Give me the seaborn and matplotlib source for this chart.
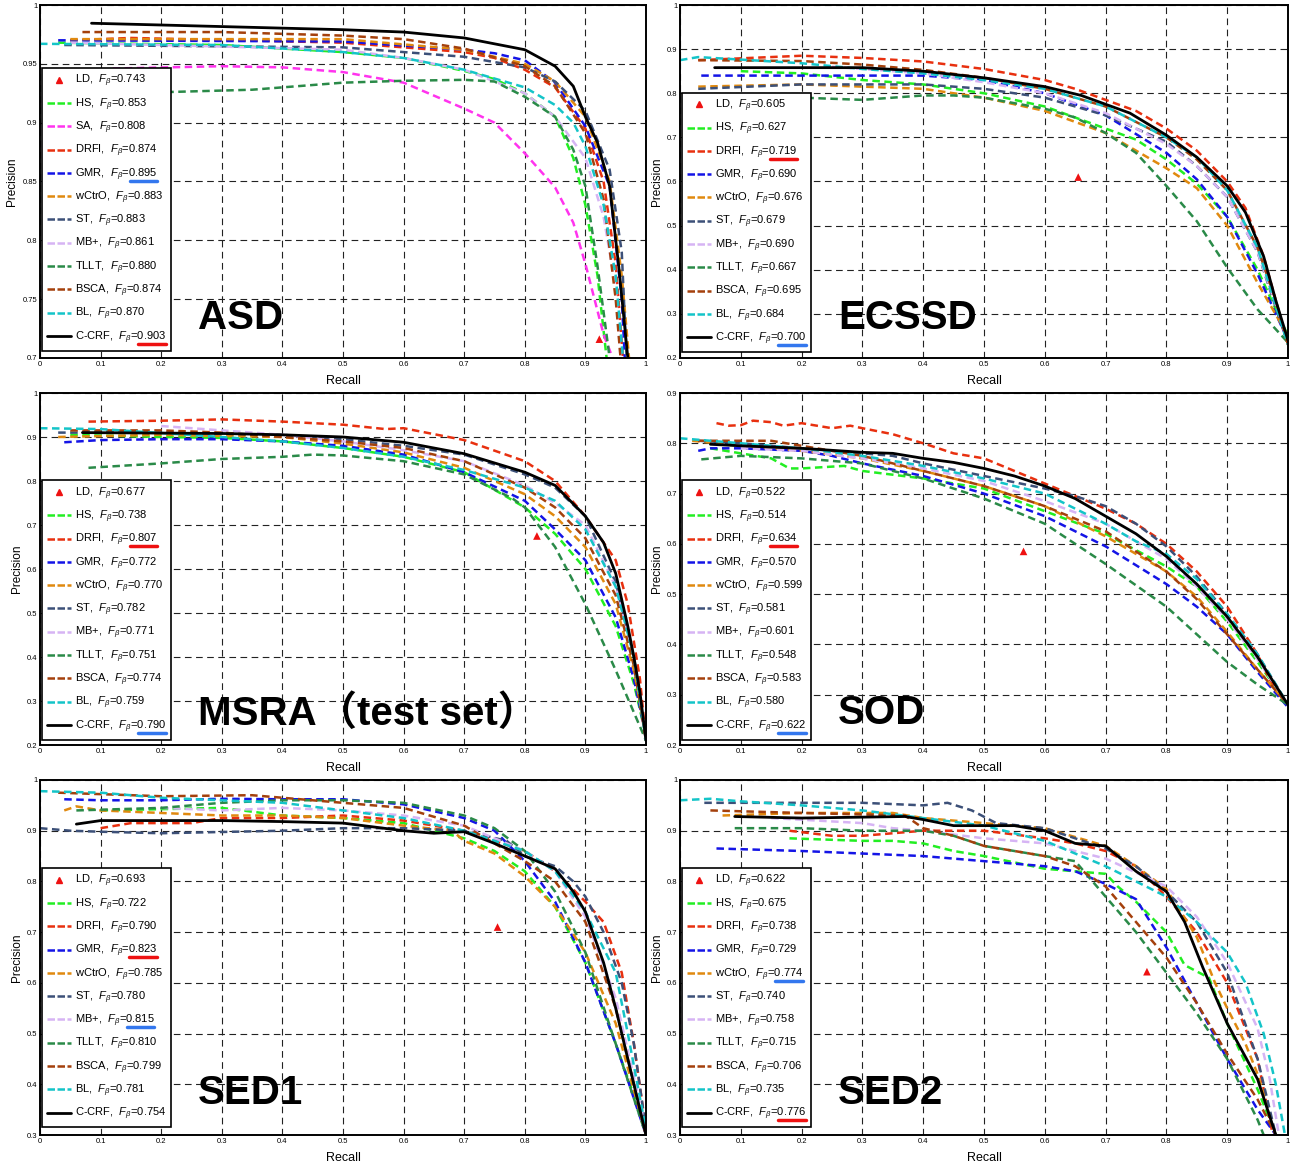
import numpy as np
import pandas as pd
import matplotlib
matplotlib.use("Agg")
import matplotlib.pyplot as plt
import seaborn as sns
from matplotlib.lines import Line2D

# legend order and colours
methods = ["HS", "SA", "DRFI", "GMR", "wCtrO", "ST", "MB+", "TLLT", "BSCA", "BL", "C-CRF"]
colors = {"HS": "#22ee22", "SA": "#ff33ee", "DRFI": "#e8300f", "GMR": "#1414e6",
          "wCtrO": "#e0890f", "ST": "#3c5078", "MB+": "#d6b4f4", "TLLT": "#2a8a48",
          "BSCA": "#a4400c", "BL": "#14c4c8", "C-CRF": "#000000"}

# ---- ASD ----
asd_curves = {
    "SA": [(0.12, .946), (0.3, .948), (0.4, .947), (0.5, .943), (0.6, .934), (0.7, .912), (0.75, .900),
           (0.8, .874), (0.85, .845), (0.88, .815), (0.9, .780), (0.93, .720), (0.945, .700)],
    "TLLT": [(0.05, .924), (0.21, .926), (0.35, .928), (0.5, .934), (0.6, .9356), (0.7, .9364), (0.75, .935),
             (0.8, .922), (0.85, .905), (0.88, .877), (0.9, .846), (0.92, .778), (0.94, .700)],
    "HS": [(0.03, .968), (0.3, .966), (0.5, .960), (0.6, .955), (0.7, .944), (0.75, .937), (0.8, .925),
           (0.85, .905), (0.88, .870), (0.9, .830), (0.92, .770), (0.935, .700)],
    "BL": [(0.0, .967), (0.3, .966), (0.5, .960), (0.6, .955), (0.7, .945), (0.8, .930), (0.85, .915),
           (0.88, .900), (0.9, .880), (0.93, .830), (0.95, .770), (0.962, .700)],
    "MB+": [(0.05, .968), (0.5, .962), (0.6, .955), (0.7, .945), (0.8, .925), (0.85, .905), (0.9, .870),
            (0.93, .820), (0.95, .760), (0.958, .700)],
    "ST": [(0.04, .966), (0.5, .964), (0.7, .956), (0.8, .947), (0.85, .935), (0.9, .910), (0.94, .860),
           (0.96, .790), (0.968, .700)],
    "DRFI": [(0.05, .970), (0.15, .972), (0.5, .968), (0.65, .962), (0.7, .960), (0.75, .955), (0.8, .945),
             (0.85, .930), (0.9, .895), (0.93, .850), (0.95, .780), (0.962, .700)],
    "wCtrO": [(0.05, .971), (0.5, .971), (0.7, .962), (0.8, .950), (0.85, .935), (0.9, .905), (0.94, .850),
              (0.96, .770), (0.972, .700)],
    "GMR": [(0.03, .970), (0.5, .969), (0.7, .962), (0.75, .959), (0.8, .953), (0.85, .934), (0.9, .897),
            (0.94, .846), (0.96, .750), (0.965, .700)],
    "BSCA": [(0.07, .977), (0.3, .977), (0.5, .974), (0.6, .971), (0.7, .963), (0.8, .948), (0.85, .931),
             (0.9, .891), (0.93, .835), (0.95, .750), (0.958, .700)],
    "C-CRF": [(0.085, .9845), (0.2, .983), (0.5, .979), (0.6, .977), (0.7, .972), (0.8, .962), (0.85, .948),
              (0.88, .931), (0.9, .905), (0.92, .883), (0.94, .846), (0.955, .778), (0.97, .700)],
}
asd_ld = (0.923, 0.716)
asd_f = {"LD": .743, "HS": .853, "SA": .808, "DRFI": .874, "GMR": .895, "wCtrO": .883, "ST": .883,
         "MB+": .861, "TLLT": .880, "BSCA": .874, "BL": .870, "C-CRF": .903}

# ---- ECSSD ----
ecssd_curves = {
    "TLLT": [(0.05, .795), (0.2, .790), (0.3, .785), (0.4, .795), (0.45, .795), (0.5, .790), (0.6, .765),
             (0.65, .745), (0.7, .710), (0.75, .665), (0.8, .590), (0.85, .510), (0.9, .405), (0.95, .310),
             (1.0, .235)],
    "wCtrO": [(0.03, .815), (0.2, .820), (0.3, .815), (0.4, .810), (0.5, .790), (0.6, .760), (0.7, .710),
              (0.8, .630), (0.85, .585), (0.9, .500), (0.95, .370), (1.0, .250)],
    "HS": [(0.1, .850), (0.2, .845), (0.3, .830), (0.4, .820), (0.5, .800), (0.6, .770), (0.7, .720),
           (0.75, .695), (0.8, .650), (0.85, .595), (0.9, .520), (0.95, .400), (1.0, .250)],
    "GMR": [(0.035, .840), (0.2, .840), (0.4, .840), (0.5, .830), (0.6, .800), (0.7, .750), (0.8, .665),
            (0.85, .605), (0.9, .520), (0.95, .390), (1.0, .240)],
    "ST": [(0.03, .810), (0.2, .820), (0.4, .820), (0.5, .810), (0.6, .790), (0.7, .750), (0.8, .690),
           (0.85, .635), (0.9, .565), (0.95, .440), (1.0, .230)],
    "MB+": [(0.25, .860), (0.3, .855), (0.4, .845), (0.5, .825), (0.6, .800), (0.7, .755), (0.8, .685),
            (0.85, .635), (0.9, .565), (0.95, .440), (1.0, .240)],
    "BL": [(0.0, .875), (0.03, .882), (0.2, .868), (0.3, .855), (0.4, .845), (0.5, .830), (0.6, .810),
           (0.7, .770), (0.8, .700), (0.85, .655), (0.9, .580), (0.95, .450), (1.0, .230)],
    "BSCA": [(0.03, .875), (0.2, .873), (0.3, .865), (0.4, .853), (0.5, .835), (0.6, .810), (0.7, .770),
             (0.8, .700), (0.85, .650), (0.9, .580), (0.95, .450), (0.98, .330), (1.0, .230)],
    "DRFI": [(0.03, .875), (0.2, .885), (0.3, .880), (0.4, .872), (0.5, .855), (0.6, .830), (0.65, .810),
             (0.7, .785), (0.75, .760), (0.8, .720), (0.85, .670), (0.9, .600), (0.93, .540), (0.96, .430),
             (0.98, .330), (1.0, .230)],
    "C-CRF": [(0.057, .858), (0.3, .858), (0.4, .850), (0.5, .835), (0.6, .815), (0.66, .795), (0.7, .775),
              (0.74, .755), (0.8, .705), (0.85, .655), (0.9, .590), (0.93, .530), (0.96, .430), (0.98, .330),
              (1.0, .240)],
}
ecssd_ld = (0.655, 0.61)
ecssd_f = {"LD": .605, "HS": .627, "DRFI": .719, "GMR": .690, "wCtrO": .676, "ST": .679, "MB+": .690,
           "TLLT": .667, "BSCA": .695, "BL": .684, "C-CRF": .700}

# ---- MSRA (test set) ----
msra_curves = {
    "TLLT": [(0.08, .830), (0.2, .840), (0.3, .850), (0.4, .855), (0.45, .860), (0.5, .858), (0.6, .845),
             (0.7, .815), (0.78, .760), (0.8, .740), (0.85, .650), (0.9, .520), (0.95, .370), (1.0, .210)],
    "HS": [(0.05, .905), (0.2, .900), (0.3, .898), (0.4, .890), (0.5, .875), (0.6, .855), (0.7, .820),
           (0.8, .740), (0.85, .680), (0.9, .600), (0.95, .470), (0.98, .340), (1.0, .220)],
    "GMR": [(0.04, .888), (0.1, .893), (0.2, .895), (0.3, .895), (0.4, .890), (0.5, .880), (0.6, .860),
            (0.7, .820), (0.8, .755), (0.85, .690), (0.9, .620), (0.95, .490), (0.98, .350), (1.0, .220)],
    "wCtrO": [(0.03, .900), (0.2, .905), (0.4, .900), (0.5, .885), (0.6, .865), (0.7, .830), (0.8, .770),
              (0.85, .720), (0.9, .650), (0.95, .520), (0.98, .370), (1.0, .220)],
    "BL": [(0.0, .920), (0.1, .918), (0.3, .900), (0.4, .890), (0.5, .875), (0.6, .855), (0.7, .825),
           (0.8, .785), (0.85, .755), (0.9, .690), (0.95, .560), (0.98, .400), (1.0, .210)],
    "BSCA": [(0.05, .915), (0.2, .915), (0.3, .910), (0.4, .900), (0.5, .890), (0.6, .875), (0.7, .845),
             (0.8, .785), (0.85, .740), (0.9, .670), (0.95, .540), (0.98, .380), (1.0, .210)],
    "MB+": [(0.2, .925), (0.3, .915), (0.4, .905), (0.5, .890), (0.6, .870), (0.7, .845), (0.8, .790),
            (0.85, .750), (0.9, .700), (0.95, .560), (0.98, .400), (1.0, .210)],
    "ST": [(0.03, .910), (0.2, .910), (0.4, .905), (0.5, .895), (0.6, .880), (0.7, .860), (0.8, .815),
           (0.85, .785), (0.9, .720), (0.95, .570), (0.98, .400), (1.0, .210)],
    "DRFI": [(0.08, .935), (0.2, .937), (0.3, .940), (0.4, .935), (0.5, .928), (0.57, .918), (0.6, .920),
             (0.7, .893), (0.8, .845), (0.85, .800), (0.9, .720), (0.95, .620), (0.97, .520), (0.99, .350),
             (1.0, .210)],
    "C-CRF": [(0.07, .910), (0.3, .908), (0.4, .905), (0.5, .900), (0.6, .888), (0.7, .862), (0.8, .820),
              (0.85, .790), (0.9, .720), (0.93, .660), (0.95, .590), (0.97, .470), (0.98, .400), (0.99, .320),
              (1.0, .210)],
}
msra_ld = (0.82, 0.675)
msra_f = {"LD": .677, "HS": .738, "DRFI": .807, "GMR": .772, "wCtrO": .770, "ST": .782, "MB+": .771,
          "TLLT": .751, "BSCA": .774, "BL": .759, "C-CRF": .790}

# ---- SOD ----
sod_curves = {
    "TLLT": [(0.035, .768), (0.1, .775), (0.2, .770), (0.3, .760), (0.4, .730), (0.5, .690), (0.6, .640),
             (0.7, .560), (0.8, .475), (0.9, .365), (0.95, .320), (1.0, .280)],
    "HS": [(0.05, .790), (0.1, .780), (0.15, .770), (0.18, .750), (0.2, .750), (0.27, .755), (0.3, .745),
           (0.4, .730), (0.5, .710), (0.6, .665), (0.7, .620), (0.8, .555), (0.85, .515), (0.9, .445),
           (0.95, .365), (1.0, .280)],
    "GMR": [(0.03, .785), (0.05, .790), (0.1, .790), (0.2, .785), (0.25, .775), (0.3, .760), (0.4, .735),
            (0.5, .700), (0.6, .655), (0.7, .595), (0.8, .520), (0.85, .475), (0.9, .420), (0.95, .345),
            (1.0, .275)],
    "wCtrO": [(0.02, .805), (0.1, .795), (0.2, .785), (0.3, .770), (0.4, .745), (0.5, .715), (0.6, .675),
              (0.7, .615), (0.8, .545), (0.85, .495), (0.9, .425), (0.95, .350), (1.0, .280)],
    "BSCA": [(0.03, .805), (0.15, .805), (0.2, .795), (0.3, .775), (0.4, .745), (0.5, .715), (0.6, .675),
             (0.7, .625), (0.8, .545), (0.85, .490), (0.9, .420), (0.95, .350), (1.0, .280)],
    "MB+": [(0.1, .790), (0.2, .785), (0.3, .770), (0.4, .750), (0.5, .725), (0.6, .685), (0.7, .640),
            (0.8, .570), (0.85, .515), (0.9, .450), (0.95, .370), (1.0, .280)],
    "BL": [(0.0, .810), (0.1, .800), (0.2, .790), (0.3, .775), (0.4, .755), (0.5, .730), (0.6, .700),
           (0.7, .640), (0.75, .605), (0.8, .580), (0.85, .530), (0.9, .460), (0.95, .380), (1.0, .280)],
    "ST": [(0.03, .805), (0.1, .800), (0.2, .790), (0.3, .780), (0.35, .775), (0.4, .760), (0.5, .735),
           (0.6, .710), (0.65, .695), (0.7, .675), (0.75, .640), (0.8, .595), (0.85, .535), (0.9, .460),
           (0.95, .380), (1.0, .280)],
    "DRFI": [(0.06, .840), (0.08, .835), (0.1, .836), (0.12, .845), (0.15, .842), (0.17, .835), (0.2, .840),
             (0.25, .830), (0.28, .835), (0.3, .830), (0.35, .818), (0.4, .800), (0.45, .780), (0.5, .770),
             (0.55, .745), (0.6, .720), (0.65, .695), (0.7, .670), (0.75, .640), (0.8, .600), (0.85, .545),
             (0.9, .475), (0.95, .380), (0.97, .330), (1.0, .280)],
    "C-CRF": [(0.05, .798), (0.1, .795), (0.2, .790), (0.3, .782), (0.35, .780), (0.4, .770), (0.45, .762),
              (0.5, .750), (0.55, .735), (0.6, .715), (0.65, .690), (0.7, .655), (0.75, .620), (0.8, .575),
              (0.85, .520), (0.9, .455), (0.95, .375), (1.0, .280)],
}
sod_ld = (0.565, 0.585)
sod_f = {"LD": .522, "HS": .514, "DRFI": .634, "GMR": .570, "wCtrO": .599, "ST": .581, "MB+": .601,
         "TLLT": .548, "BSCA": .583, "BL": .580, "C-CRF": .622}

# ---- SED1 ----
sed1_curves = {
    "ST": [(0.0, .905), (0.05, .900), (0.1, .898), (0.2, .895), (0.4, .900), (0.5, .905), (0.6, .905),
           (0.7, .900), (0.77, .880), (0.8, .850), (0.85, .830), (0.88, .800), (0.9, .770), (0.93, .700),
           (0.96, .600), (0.98, .480), (1.0, .310)],
    "HS": [(0.1, .940), (0.3, .945), (0.4, .930), (0.5, .925), (0.6, .915), (0.65, .900), (0.7, .885),
           (0.75, .860), (0.8, .820), (0.85, .750), (0.9, .640), (0.95, .480), (1.0, .310)],
    "wCtrO": [(0.04, .940), (0.06, .948), (0.1, .940), (0.2, .935), (0.3, .930), (0.4, .930), (0.5, .925),
              (0.6, .910), (0.68, .900), (0.7, .880), (0.75, .855), (0.8, .810), (0.85, .750), (0.9, .660),
              (0.95, .520), (1.0, .300)],
    "DRFI": [(0.1, .905), (0.15, .915), (0.25, .915), (0.3, .925), (0.4, .925), (0.5, .930), (0.6, .920),
             (0.7, .900), (0.8, .860), (0.85, .820), (0.9, .760), (0.93, .720), (0.96, .620), (0.98, .480),
             (1.0, .310)],
    "MB+": [(0.2, .945), (0.3, .940), (0.4, .945), (0.5, .940), (0.6, .930), (0.7, .910), (0.8, .860),
            (0.85, .820), (0.9, .730), (0.95, .570), (1.0, .310)],
    "BSCA": [(0.03, .975), (0.2, .968), (0.35, .970), (0.4, .965), (0.5, .955), (0.6, .945), (0.7, .910),
             (0.75, .875), (0.8, .840), (0.85, .800), (0.9, .720), (0.95, .550), (1.0, .300)],
    "TLLT": [(0.06, .940), (0.2, .945), (0.3, .955), (0.4, .960), (0.5, .960), (0.6, .955), (0.7, .930),
             (0.75, .905), (0.8, .860), (0.85, .780), (0.9, .660), (0.95, .480), (1.0, .300)],
    "GMR": [(0.04, .962), (0.1, .960), (0.2, .960), (0.3, .963), (0.4, .962), (0.5, .962), (0.6, .952),
            (0.7, .925), (0.75, .900), (0.8, .840), (0.85, .760), (0.9, .640), (0.95, .480), (1.0, .300)],
    "BL": [(0.0, .978), (0.1, .975), (0.2, .965), (0.3, .960), (0.4, .955), (0.5, .940), (0.6, .925),
           (0.7, .900), (0.8, .860), (0.85, .820), (0.9, .740), (0.95, .620), (0.97, .500), (1.0, .310)],
    "C-CRF": [(0.06, .913), (0.1, .920), (0.3, .920), (0.4, .918), (0.5, .915), (0.6, .900), (0.65, .895),
              (0.7, .898), (0.75, .875), (0.8, .850), (0.85, .825), (0.88, .780), (0.9, .740), (0.93, .640),
              (0.95, .550), (0.97, .450), (1.0, .300)],
}
sed1_ld = (0.755, 0.71)
sed1_f = {"LD": .693, "HS": .722, "DRFI": .790, "GMR": .823, "wCtrO": .785, "ST": .780, "MB+": .815,
          "TLLT": .810, "BSCA": .799, "BL": .781, "C-CRF": .754}

# ---- SED2 ----
sed2_curves = {
    "GMR": [(0.06, .865), (0.2, .860), (0.3, .855), (0.4, .850), (0.5, .840), (0.6, .830), (0.65, .820),
            (0.7, .795), (0.75, .765), (0.8, .670), (0.85, .560), (0.9, .450), (0.95, .350), (0.98, .300)],
    "HS": [(0.18, .885), (0.3, .880), (0.35, .880), (0.4, .875), (0.45, .860), (0.5, .850), (0.6, .825),
           (0.7, .815), (0.72, .790), (0.75, .760), (0.8, .700), (0.83, .635), (0.87, .610), (0.9, .520),
           (0.95, .390), (0.98, .300)],
    "TLLT": [(0.09, .905), (0.2, .905), (0.3, .900), (0.4, .900), (0.45, .890), (0.5, .870), (0.6, .850),
             (0.65, .840), (0.7, .770), (0.75, .700), (0.8, .620), (0.85, .540), (0.9, .450), (0.95, .330),
             (0.96, .300)],
    "DRFI": [(0.18, .900), (0.25, .890), (0.3, .890), (0.4, .900), (0.5, .900), (0.6, .885), (0.65, .875),
             (0.7, .860), (0.75, .830), (0.8, .770), (0.85, .700), (0.9, .600), (0.95, .450), (0.975, .300)],
    "MB+": [(0.15, .925), (0.3, .915), (0.35, .905), (0.4, .900), (0.5, .885), (0.6, .875), (0.7, .845),
            (0.8, .790), (0.85, .730), (0.9, .640), (0.95, .510), (0.97, .410), (0.985, .300)],
    "BSCA": [(0.05, .940), (0.2, .935), (0.37, .930), (0.4, .905), (0.45, .890), (0.5, .870), (0.6, .850),
             (0.65, .830), (0.7, .790), (0.75, .720), (0.8, .650), (0.85, .560), (0.9, .460), (0.95, .370),
             (0.98, .300)],
    "BL": [(0.0, .960), (0.05, .963), (0.1, .958), (0.2, .950), (0.3, .940), (0.4, .925), (0.5, .910),
           (0.6, .880), (0.7, .830), (0.75, .800), (0.8, .770), (0.85, .720), (0.9, .660), (0.93, .600),
           (0.96, .500), (0.98, .400), (0.995, .300)],
    "ST": [(0.04, .955), (0.2, .955), (0.3, .955), (0.4, .950), (0.44, .955), (0.48, .940), (0.52, .915),
           (0.6, .905), (0.7, .865), (0.75, .830), (0.8, .780), (0.85, .720), (0.9, .620), (0.95, .450),
           (0.98, .300)],
    "wCtrO": [(0.07, .930), (0.2, .935), (0.35, .935), (0.4, .925), (0.5, .915), (0.6, .905), (0.7, .870),
              (0.75, .830), (0.8, .785), (0.85, .690), (0.88, .600), (0.9, .550), (0.93, .480), (0.95, .420),
              (0.98, .300)],
    "C-CRF": [(0.09, .928), (0.2, .925), (0.37, .928), (0.4, .922), (0.45, .910), (0.55, .910), (0.6, .900),
              (0.65, .875), (0.7, .870), (0.73, .840), (0.75, .820), (0.8, .780), (0.83, .720), (0.86, .630),
              (0.9, .520), (0.95, .410), (0.98, .300)],
}
sed2_ld = (0.768, 0.622)
sed2_f = {"LD": .622, "HS": .675, "DRFI": .738, "GMR": .729, "wCtrO": .774, "ST": .740, "MB+": .758,
          "TLLT": .715, "BSCA": .706, "BL": .735, "C-CRF": .776}

# panel setup: title, curves, LD point, F values, y range, y step, red underline, blue underline
panels = [
    ("ASD", asd_curves, asd_ld, asd_f, (0.7, 1.0), 0.05, "C-CRF", "GMR"),
    ("ECSSD", ecssd_curves, ecssd_ld, ecssd_f, (0.2, 1.0), 0.1, "DRFI", "C-CRF"),
    ("MSRA（test set）", msra_curves, msra_ld, msra_f, (0.2, 1.0), 0.1, "DRFI", "C-CRF"),
    ("SOD", sod_curves, sod_ld, sod_f, (0.2, 0.9), 0.1, "DRFI", "C-CRF"),
    ("SED1", sed1_curves, sed1_ld, sed1_f, (0.3, 1.0), 0.1, "GMR", "MB+"),
    ("SED2", sed2_curves, sed2_ld, sed2_f, (0.3, 1.0), 0.1, "C-CRF", "wCtrO"),
]

sns.set_style("white")
plt.rcParams['font.family'] = ['Liberation Sans', 'Noto Sans CJK SC', 'DejaVu Sans']
plt.rcParams['mathtext.fontset'] = 'custom'
plt.rcParams['mathtext.it'] = 'Liberation Sans:italic'
plt.rcParams['mathtext.rm'] = 'Liberation Sans'
for k in ['text.color', 'axes.labelcolor', 'xtick.color', 'ytick.color']:
    plt.rcParams[k] = 'black'

W, H = 1302, 1169
fig = plt.figure(figsize=(W / 100, H / 100), dpi=100)

# axes boxes in pixels: left, top, right, bottom; plus y of the big dataset label
boxes = [(40, 5, 646, 358), (680, 5, 1288, 358),
         (40, 393, 646, 745), (680, 393, 1288, 745),
         (40, 780, 646, 1135), (680, 780, 1288, 1135)]
title_y = [0.113, 0.113, 0.09, 0.09, 0.118, 0.118]

underlines = []
for (title, curves, ld, fvals, ylim, ystep, red, blue), (l, t, r, b), ty in zip(panels, boxes, title_y):
    ax = fig.add_axes([l / W, 1 - b / H, (r - l) / W, (b - t) / H])

    for m in methods:
        if m not in curves:
            continue
        pts = pd.DataFrame(curves[m], columns=["recall", "precision"])
        if m == "C-CRF":
            sns.lineplot(data=pts, x="recall", y="precision", ax=ax, color=colors[m],
                         linewidth=2.0, sort=False, estimator=None, zorder=5)
        else:
            sns.lineplot(data=pts, x="recall", y="precision", ax=ax, color=colors[m],
                         linewidth=1.8, linestyle=(0, (3, 1.8)), sort=False, estimator=None)
    sns.scatterplot(x=[ld[0]], y=[ld[1]], ax=ax, marker='^', color='#ee1111', s=30,
                    edgecolor='none', zorder=6)

    ax.set_xlim(0, 1)
    ax.set_ylim(*ylim)
    xt = np.round(np.arange(0, 1.0001, 0.1), 2)
    yt = np.round(np.arange(ylim[0], ylim[1] + 1e-6, ystep), 2)
    ax.set_xticks(xt)
    ax.set_yticks(yt)
    ax.set_xticklabels([f"{v:g}" for v in xt])
    ax.set_yticklabels([f"{v:g}" for v in yt])
    ax.tick_params(direction='in', length=3, labelsize=5.5, pad=2)
    ax.grid(True, color='#222222', linestyle=(0, (6, 4)), linewidth=0.8)
    ax.set_axisbelow(True)
    for s in ax.spines.values():
        s.set_linewidth(1.4)
        s.set_color('black')
    ax.set_xlabel("Recall", fontsize=9, labelpad=5)
    ax.set_ylabel("Precision", fontsize=8.5, labelpad=3)

    handles = [Line2D([], [], color='#ee1111', marker='^', linestyle='none', markersize=5)]
    labels = [f"LD,  $F_\\beta$={fvals['LD']:.3f}"]
    for m in methods:
        if m not in fvals:
            continue
        if m == "C-CRF":
            handles.append(Line2D([], [], color='black', linewidth=2.0))
        else:
            handles.append(Line2D([], [], color=colors[m], linewidth=1.8, linestyle=(0, (3, 1.0))))
        labels.append(f"{m},  $F_\\beta$={fvals[m]:.3f}")
    top = (358 - 68) / 353 if title == "ASD" else 0.752
    leg = ax.legend(handles, labels, loc='upper left', bbox_to_anchor=(0.003, top),
                    fontsize=8, frameon=True, fancybox=False, framealpha=1,
                    edgecolor='black', handlelength=2.2, handletextpad=0.3,
                    labelspacing=0.62, borderpad=0.45, borderaxespad=0)
    leg.get_frame().set_linewidth(1.2)
    leg.set_zorder(10)

    ax.text(0.26, ty, title, transform=ax.transAxes, fontsize=29, fontweight='bold',
            color='black', va='center', ha='left', zorder=11)

    for txt, lab in zip(leg.get_texts(), labels):
        name = lab.split(",")[0]
        if name == red:
            underlines.append((txt, fvals[name], '#ee1111'))
        elif name == blue:
            underlines.append((txt, fvals[name], '#3377ee'))

fig.canvas.draw()
renderer = fig.canvas.get_renderer()
for txt, val, col in underlines:
    bb = txt.get_window_extent(renderer)
    tmp = fig.text(0, 0, f"{val:.3f}", fontproperties=txt.get_fontproperties())
    w = tmp.get_window_extent(renderer).width
    tmp.remove()
    y = bb.y0 + 2
    fig.add_artist(Line2D([(bb.x1 - w) / W, bb.x1 / W], [y / H, y / H], color=col,
                          linewidth=2.5, transform=fig.transFigure, zorder=20))

fig.savefig("out.png", dpi=100)
